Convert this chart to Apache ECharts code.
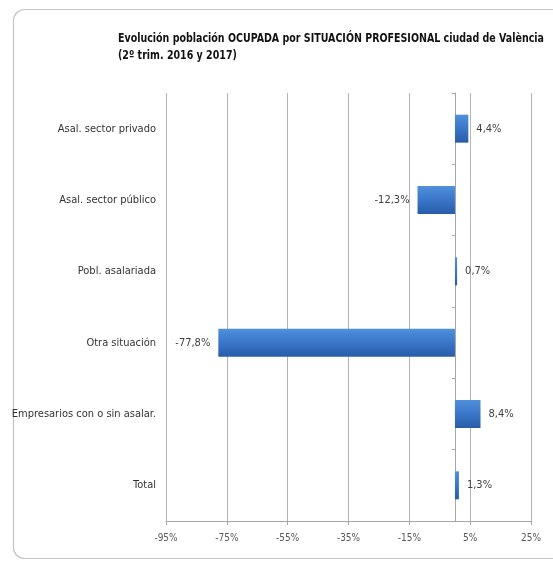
<!DOCTYPE html>
<html><head><meta charset="utf-8">
<script src="https://cdn.jsdelivr.net/npm/echarts@6/dist/echarts.min.js"></script>
<style>html,body{margin:0;padding:0;background:#fff}#c{width:553px;height:561px}</style>
</head><body><div id="c"></div>
<script>
const titleLines = ['Evolución población OCUPADA por SITUACIÓN PROFESIONAL ciudad de València', '(2º trim. 2016 y 2017)'];
const categories = ['Asal. sector privado', 'Asal. sector público', 'Pobl. asalariada', 'Otra situación', 'Empresarios con o sin asalar.', 'Total'];
const values = [4.4, -12.3, 0.7, -77.8, 8.4, 1.3];
const tickLabels = ['-95%', '-75%', '-55%', '-35%', '-15%', '5%', '25%'];
const FONT = '"DejaVu Sans Condensed", "Liberation Sans Narrow", sans-serif';
const TITLE_FONT = 'bold 12.5px "DejaVu Sans Condensed", sans-serif';

// measure title width to condense it horizontally like the original narrow font
const cv = document.createElement('canvas').getContext('2d');
cv.font = TITLE_FONT;
const titleW = cv.measureText(titleLines[0]).width;
const titleScale = 426 / titleW;

const chart = echarts.init(document.getElementById('c'));
chart.setOption({
  animation: false,
  graphic: [{
    type: 'rect', shape: { x: 13.5, y: 9.5, width: 560, height: 549, r: 11 },
    style: { fill: 'none', stroke: '#c4c4c4', lineWidth: 1.2 }, silent: true, z: -10
  }, {
    type: 'text', x: 118, y: 30, scaleX: titleScale, scaleY: 1,
    style: { text: titleLines.join('\n'), font: TITLE_FONT, fill: '#111', lineHeight: 17, textVerticalAlign: 'top' }
  }],
  grid: { left: 166, right: 22, top: 93, bottom: 40 },
  xAxis: {
    type: 'value', min: -95, max: 25, interval: 20,
    axisLine: { show: true, lineStyle: { color: '#a6a6a6' } },
    axisTick: { show: true, length: 4, lineStyle: { color: '#a6a6a6' } },
    splitLine: { show: true, lineStyle: { color: '#b4b4b4', width: 1 } },
    axisLabel: {
      fontFamily: FONT, fontSize: 10, color: '#595959', margin: 12,
      formatter: (v) => { const i = Math.round((v + 95) / 20); return tickLabels[i] !== undefined ? tickLabels[i] : ''; }
    }
  },
  yAxis: {
    type: 'category', data: categories, inverse: true,
    axisLine: { show: true, onZero: true, lineStyle: { color: '#a6a6a6' } },
    axisTick: { show: true, length: 3, lineStyle: { color: '#a6a6a6' } },
    axisLabel: { fontFamily: FONT, fontSize: 11, color: '#333', margin: 10 },
    position: 'left'
  },
  series: [{
    type: 'bar', barWidth: 28,
    data: values.map(v => ({ value: v, label: { position: v < 0 ? 'left' : 'right' } })),
    itemStyle: {
      color: new echarts.graphic.LinearGradient(0, 0, 0, 1, [
        { offset: 0, color: '#5090dc' }, { offset: 0.5, color: '#3a76c8' }, { offset: 1, color: '#285ca8' }
      ])
    },
    label: {
      show: true, fontFamily: FONT, fontSize: 11, color: '#404040', distance: 8,
      formatter: (p) => p.value.toFixed(1).replace('.', ',') + '%'
    }
  }]
});
</script></body></html>
